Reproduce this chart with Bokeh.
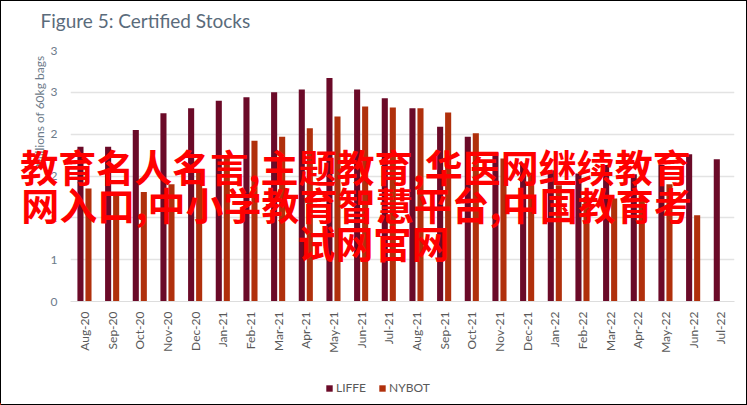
from bokeh.plotting import figure
from bokeh.models import Range1d, Label, FixedTicker, Legend, LegendItem
from bokeh.embed import file_html
from bokeh.resources import INLINE

months = ["Aug-20","Sep-20","Oct-20","Nov-20","Dec-20","Jan-21","Feb-21","Mar-21","Apr-21","May-21","Jun-21","Jul-21",
          "Aug-21","Sep-21","Oct-21","Nov-21","Dec-21","Jan-22","Feb-22","Mar-22","Apr-22","May-22","Jun-22","Jul-22"]
liffe = [1.85,1.85,2.05,2.25,2.31,2.40,2.44,2.50,2.535,2.67,2.535,2.43,2.31,2.09,1.97,1.78,1.65,1.57,1.53,1.63,1.52,1.63,1.76,1.70]
nybot = [1.35,1.30,1.31,1.40,1.54,1.75,1.92,1.97,2.07,2.21,2.33,2.32,2.31,2.26,2.01,1.71,1.54,1.39,1.25,1.23,1.25,1.40,1.03,None]
y_ticks = [0,0.5,1,1.5,2,2.5,3]
y_labels = ["0","1","1","2","2","3","3"]
series_names = ["LIFFE", "NYBOT"]
title_text = "Figure 5: Certified Stocks"
y_title = "Millions of 60kg bags"
overlay_lines = ["教育名人名言,主题教育,华医网继续教育","网入口,中小学教育智慧平台,中国教育考","试网官网"]

W, H = 747, 405
TEXT = "#595959"
C1, C2 = "#6B0A28", "#B0300C"
p = figure(width=W, height=H, output_backend="svg", toolbar_location=None,
           x_range=Range1d(0, len(months)), y_range=Range1d(0, 3),
           frame_width=664, frame_height=251,
           min_border_left=69, min_border_right=12, min_border_top=49, min_border_bottom=103)
p.styles = {"position": "absolute", "left": "0px", "top": "0px", "border": "1px solid black", "box-sizing": "border-box"}
p.outline_line_color = None
x = list(range(len(months)))
lv = [i + 0.36 for i in x]
nv = [i + 0.65 for i in x]
nx = [a for a, v in zip(nv, nybot) if v is not None]
ny = [v for v in nybot if v is not None]
p.vbar(x=lv, top=liffe, width=0.22, color=C1, line_color=None)
p.vbar(x=nx, top=ny, width=0.22, color=C2, line_color=None)

p.xgrid.visible = False
p.ygrid.ticker = FixedTicker(ticks=y_ticks)
p.ygrid.grid_line_color = "#E3E3E3"
p.ygrid.grid_line_width = 1.3
p.yaxis.ticker = FixedTicker(ticks=y_ticks)
p.yaxis.major_label_overrides = {t: s for t, s in zip(y_ticks, y_labels)}
p.yaxis.axis_line_color = None
p.yaxis.major_tick_line_color = None
p.yaxis.minor_tick_line_color = None
p.yaxis.major_tick_out = 0
p.yaxis.major_label_text_color = "#6D7B8A"
p.yaxis.major_label_text_font = "Lato"
p.yaxis.major_label_text_font_size = "12px"
p.yaxis.major_label_standoff = 13

p.xaxis.ticker = FixedTicker(ticks=[i + 0.5 for i in x])
p.xaxis.major_label_overrides = {i + 0.5: m for i, m in enumerate(months)}
p.xaxis.major_label_orientation = 1.5708
p.xaxis.axis_line_color = "#DDDDDD"
p.xaxis.major_tick_line_color = None
p.xaxis.minor_tick_line_color = None
p.xaxis.major_tick_out = 0
p.xaxis.major_label_text_color = TEXT
p.xaxis.major_label_text_font = "Lato"
p.xaxis.major_label_text_font_size = "12px"
p.xaxis.major_label_standoff = 10

# transparent sheet over the chart for texts and legend that sit outside the plot area;
# its x range lies away from the data, so its bars only serve as legend keys
q = figure(width=W, height=H, output_backend="svg", toolbar_location=None,
           x_range=Range1d(1000, 1000 + W), y_range=Range1d(0, H),
           frame_width=W, frame_height=H,
           min_border_left=0, min_border_right=0, min_border_top=0, min_border_bottom=0,
           x_axis_location=None, y_axis_location=None,
           background_fill_color=None, border_fill_color=None)
q.styles = {"position": "absolute", "left": "0px", "top": "0px"}
q.outline_line_color = None
q.grid.visible = False
k1 = q.vbar(x=lv, top=liffe, width=0.22, color=C1, line_color=None)
k2 = q.vbar(x=nx, top=ny, width=0.22, color=C2, line_color=None)
leg = Legend(items=[LegendItem(label=series_names[0], renderers=[k1]), LegendItem(label=series_names[1], renderers=[k2])],
             orientation="horizontal", location=(325, 10), border_line_color=None, background_fill_alpha=0,
             glyph_width=8, glyph_height=8, label_text_font="Lato", label_text_font_size="12px",
             label_text_color=TEXT, spacing=12, label_standoff=3, padding=0, margin=0)
q.add_layout(leg)

def page_label(text, px, py, **kw):
    q.add_layout(Label(x=px, y=H - py, x_units="screen", y_units="screen", text=text,
                       text_baseline="middle", **kw))

page_label(title_text, 40, 20, text_font="Lato", text_font_size="19px", text_color="#5A6B7B")
page_label(y_title, 39, 111, text_font="Lato", text_font_size="12px", text_color="#6D7B8A",
           text_align="center", angle=1.5708)
for line, xc, yc in zip(overlay_lines, [355, 356, 373], [165, 203, 241]):
    page_label(line, xc, yc, text_align="center", text_font="Noto Sans CJK SC", text_font_style="bold",
               text_font_size="38px", text_color="#FF0000")
open("out.html", "w").write(file_html([p, q], INLINE))
